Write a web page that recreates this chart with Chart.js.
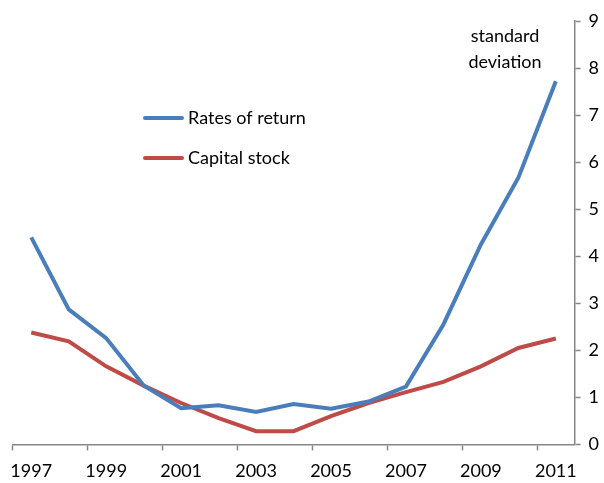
<!DOCTYPE html>
<html>
<head>
<meta charset="utf-8">
<script src="https://cdn.jsdelivr.net/npm/chart.js@4/dist/chart.umd.min.js"></script>
<style>
  body { margin: 0; background: #fff; }
</style>
</head>
<body>
<canvas id="chart" width="604" height="483"></canvas>
<script>
var years = ['1997', '1998', '1999', '2000', '2001', '2002', '2003', '2004',
             '2005', '2006', '2007', '2008', '2009', '2010', '2011'];
var ratesOfReturn = [4.4, 2.87, 2.26, 1.25, 0.77, 0.83, 0.69, 0.86, 0.76, 0.91, 1.23, 2.55, 4.25, 5.67, 7.72];
var capitalStock = [2.38, 2.19, 1.66, 1.25, 0.88, 0.56, 0.28, 0.28, 0.6, 0.88, 1.11, 1.33, 1.66, 2.05, 2.25];
var yTicks = [0, 1, 2, 3, 4, 5, 6, 7, 8, 9];

var FONT = 'Lato, "Open Sans", sans-serif';
var BLUE = '#4a7ebb';
var RED = '#be4b48';
var AXIS = '#868686';

// legend and the "standard deviation" note are drawn inside the plot
var annotations = {
    id: 'annotations',
    afterDraw: function (chart) {
        var c = chart.ctx;
        c.save();
        c.font = '18px ' + FONT;
        c.fillStyle = '#000';
        c.textBaseline = 'middle';
        c.lineWidth = 4;
        c.lineCap = 'round';
        chart.data.datasets.forEach(function (ds, i) {
            var y = 118 + i * 40;
            c.strokeStyle = ds.borderColor;
            c.beginPath();
            c.moveTo(145, y);
            c.lineTo(182, y);
            c.stroke();
            c.textAlign = 'left';
            c.fillText(ds.label, 188, y);
        });
        c.textAlign = 'center';
        c.fillText('standard', 505, 36);
        c.fillText('deviation', 505, 62);
        c.restore();
    }
};

var ctx = document.getElementById('chart');
var myChart = new Chart(ctx, {
    type: 'line',
    data: {
        labels: years,
        datasets: [{
            label: 'Rates of return',
            data: ratesOfReturn,
            borderColor: BLUE,
            backgroundColor: BLUE,
            borderWidth: 4,
            pointRadius: 0,
            tension: 0
        }, {
            label: 'Capital stock',
            data: capitalStock,
            borderColor: RED,
            backgroundColor: RED,
            borderWidth: 4,
            pointRadius: 0,
            tension: 0
        }]
    },
    options: {
        responsive: false,
        animation: false,
        layout: { padding: { left: 11, top: 21, right: -3, bottom: -9 } },
        plugins: {
            legend: { display: false },
            tooltip: { enabled: false }
        },
        scales: {
            x: {
                offset: true,
                grid: {
                    offset: true,
                    drawOnChartArea: false,
                    tickLength: 6,
                    tickWidth: 1.5,
                    tickColor: function (c) {
                        return c.index % 2 === 0 ? AXIS : 'rgba(0,0,0,0)';
                    }
                },
                border: { color: AXIS, width: 1.5 },
                ticks: {
                    autoSkip: false,
                    maxRotation: 0,
                    padding: 10,
                    color: '#000',
                    font: { family: FONT, size: 18 },
                    callback: function (v, i) {
                        return i % 2 === 0 ? years[i] : '';
                    }
                }
            },
            y: {
                position: 'right',
                min: 0,
                max: 9,
                afterBuildTicks: function (axis) {
                    axis.ticks = yTicks.map(function (v) { return { value: v }; });
                },
                grid: {
                    drawOnChartArea: false,
                    tickLength: 6,
                    tickWidth: 1.5,
                    tickColor: AXIS
                },
                border: { color: AXIS, width: 1.5 },
                ticks: {
                    padding: 8,
                    color: '#000',
                    font: { family: FONT, size: 18 }
                }
            }
        }
    },
    plugins: [annotations]
});
</script>
</body>
</html>
